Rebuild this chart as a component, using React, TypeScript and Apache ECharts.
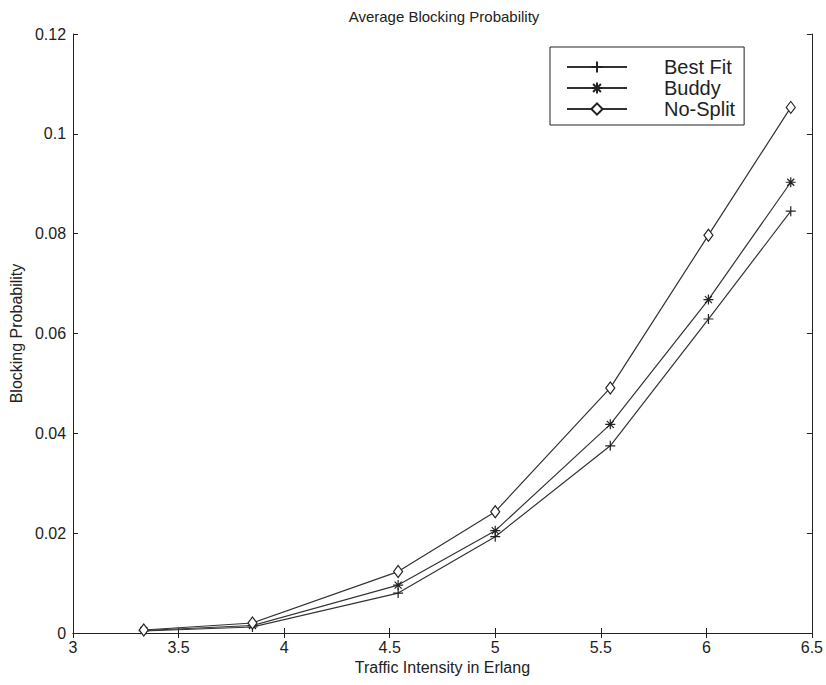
import React, { useEffect, useRef } from "react";
import * as echarts from "echarts";

// Traffic intensity (Erlang) at which each allocation policy was measured
const trafficIntensity = [3.335, 3.85, 4.54, 5.0, 5.545, 6.01, 6.4];

// Average blocking probability per policy
const bestFit = [0.0004, 0.0012, 0.008, 0.0193, 0.0375, 0.0629, 0.0845];
const buddy = [0.0005, 0.0015, 0.0096, 0.0205, 0.0418, 0.0668, 0.0903];
const noSplit = [0.0006, 0.002, 0.0123, 0.0243, 0.0491, 0.0797, 0.1053];

const seriesNames = ["Best Fit", "Buddy", "No-Split"];

const xTicks = { min: 3, max: 6.5, interval: 0.5 };
const yTicks = { min: 0, max: 0.12, interval: 0.02 };

const FONT = "Liberation Sans, Arial, Helvetica, sans-serif";
const INK = "#222";

const plusPath = "path://M0,-5L0,5M-5,0L5,0";
const starPath = "path://M0,-5L0,5M-5,0L5,0M-3.5,-3.5L3.5,3.5M-3.5,3.5L3.5,-3.5";

const pairs = (ys: number[]) => trafficIntensity.map((x, i) => [x, ys[i]]);

export default function App() {
  const ref = useRef<HTMLDivElement>(null);

  useEffect(() => {
    if (!ref.current) return;
    const chart = echarts.init(ref.current, undefined, { renderer: "svg" });

    const tickStyle = {
      show: true,
      inside: true,
      length: 5,
      lineStyle: { color: INK, width: 1 },
    };

    const baseSeries = (name: string, data: number[], symbol: string, size: any, fill: string) => ({
      name,
      type: "line",
      data: pairs(data),
      symbol,
      symbolSize: size,
      showSymbol: true,
      lineStyle: { color: "#333", width: 1.2 },
      itemStyle: { color: fill, borderColor: INK, borderWidth: 1.2 },
      emphasis: { disabled: true },
      z: 3,
    });

    chart.setOption({
      animation: false,
      backgroundColor: "#fff",
      textStyle: { fontFamily: FONT, color: INK },
      title: {
        text: "Average Blocking Probability",
        left: 439,
        top: 4,
        textAlign: "center",
        textStyle: { fontFamily: FONT, fontSize: 15, fontWeight: "normal", color: INK },
      },
      legend: {
        data: seriesNames,
        orient: "vertical",
        left: 550,
        top: 47,
        itemWidth: 60,
        itemHeight: 14,
        itemGap: 1,
        padding: [10, 9, 6, 16],
        borderColor: INK,
        borderWidth: 1,
        backgroundColor: "#fff",
        textStyle: { fontFamily: FONT, fontSize: 20, color: INK, padding: [0, 0, 0, 32] },
        selectedMode: false,
      },
      grid: { left: 65, right: 14, top: 34, bottom: 52, containLabel: false },
      xAxis: [
        {
          type: "value",
          ...xTicks,
          name: "Traffic Intensity in Erlang",
          nameLocation: "middle",
          nameGap: 23,
          nameTextStyle: { fontFamily: FONT, fontSize: 16, color: INK, verticalAlign: "top" },
          axisLine: { show: true, lineStyle: { color: INK, width: 1 } },
          axisTick: tickStyle,
          axisLabel: {
            fontFamily: FONT,
            fontSize: 16,
            color: INK,
            margin: 6,
            formatter: (v: number) => String(v),
          },
          splitLine: { show: false },
        },
        {
          type: "value",
          position: "top",
          ...xTicks,
          axisLine: { show: true, lineStyle: { color: INK, width: 1 } },
          axisTick: tickStyle,
          axisLabel: { show: false },
          splitLine: { show: false },
        },
      ],
      yAxis: [
        {
          type: "value",
          ...yTicks,
          name: "Blocking Probability",
          nameLocation: "middle",
          nameGap: 44,
          nameTextStyle: { fontFamily: FONT, fontSize: 16, color: INK },
          axisLine: { show: true, lineStyle: { color: INK, width: 1 } },
          axisTick: tickStyle,
          axisLabel: {
            fontFamily: FONT,
            fontSize: 16,
            color: INK,
            margin: 7,
            formatter: (v: number) => String(Number(v.toFixed(2))),
          },
          splitLine: { show: false },
        },
        {
          type: "value",
          position: "right",
          ...yTicks,
          axisLine: { show: true, lineStyle: { color: INK, width: 1 } },
          axisTick: tickStyle,
          axisLabel: { show: false },
          splitLine: { show: false },
        },
      ],
      series: [
        baseSeries(seriesNames[0], bestFit, plusPath, 10, INK),
        baseSeries(seriesNames[1], buddy, starPath, 10, INK),
        baseSeries(seriesNames[2], noSplit, "diamond", [9, 12], "#fff"),
      ],
    });

    return () => chart.dispose();
  }, []);

  return (
    <div
      ref={ref}
      style={{ position: "absolute", left: 0, top: 0, width: 826, height: 685 }}
    />
  );
}
